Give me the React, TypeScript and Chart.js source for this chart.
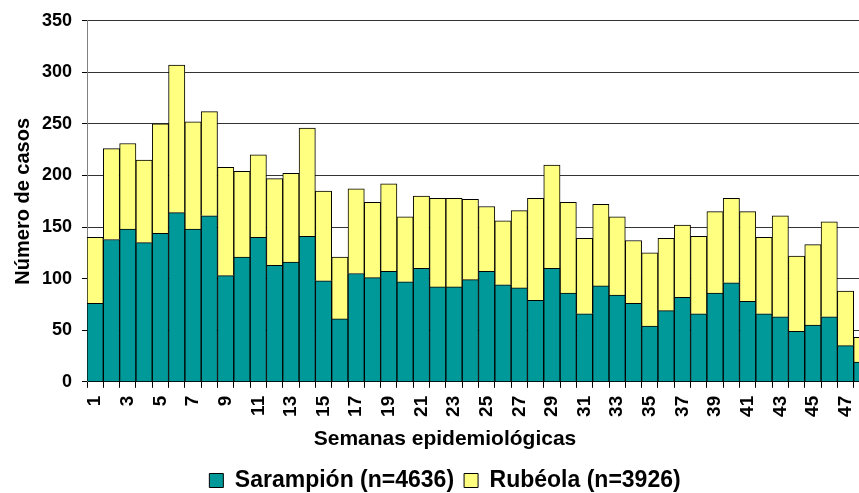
import React, { useEffect, useRef } from "react";
import { Chart, registerables } from "chart.js";

Chart.register(...registerables);

const weeks: string[] = Array.from({ length: 48 }, (_, i) => String(i + 1));

const sarampion: number[] = [
  76, 138, 148, 135, 144, 164, 148, 161, 103, 121,
  140, 113, 116, 141, 98, 61, 105, 101, 107, 97,
  110, 92, 92, 99, 107, 94, 91, 79, 110, 86,
  66, 93, 84, 76, 54, 69, 82, 66, 86, 96,
  78, 66, 63, 49, 55, 63, 35, 19,
];

const totales: number[] = [
  140, 226, 231, 215, 250, 307, 252, 262, 208, 204,
  220, 197, 202, 246, 185, 121, 187, 174, 192, 160,
  180, 178, 178, 177, 170, 156, 166, 178, 210, 174,
  139, 172, 160, 137, 125, 139, 152, 141, 165, 178,
  165, 140, 161, 122, 133, 155, 88, 43,
];

const rubeola: number[] = totales.map((t, i) => t - sarampion[i]);

const FONT = "'Liberation Sans', Arial, sans-serif";

export default function App() {
  const ref = useRef<HTMLCanvasElement | null>(null);

  useEffect(() => {
    if (!ref.current) return;
    const chart = new Chart(ref.current, {
      type: "bar",
      data: {
        labels: weeks,
        datasets: [
          {
            label: "Sarampión (n=4636)",
            data: sarampion,
            backgroundColor: "#009999",
            borderColor: "#000000",
            borderWidth: 1,
            categoryPercentage: 1,
            barPercentage: 1,
          },
          {
            label: "Rubéola (n=3926)",
            data: rubeola,
            backgroundColor: "#FFFF80",
            borderColor: "#000000",
            borderWidth: 1,
            categoryPercentage: 1,
            barPercentage: 1,
          },
        ],
      },
      options: {
        responsive: false,
        animation: false,
        layout: { padding: { top: 20, right: 0, left: 20, bottom: 1 } },
        plugins: {
          tooltip: { enabled: false },
          title: {
            display: true,
            text: "Semanas epidemiológicas",
            position: "bottom",
            weight: 500,
            color: "#000",
            font: { family: FONT, size: 21, weight: "bold" },
            padding: { top: 5, bottom: 7 },
          } as any,
          legend: {
            position: "bottom",
            labels: {
              color: "#000",
              font: { family: FONT, size: 23, weight: "bold" },
              boxWidth: 14,
              boxHeight: 14,
              padding: 10,
            },
          },
        },
        scales: {
          x: {
            stacked: true,
            offset: true,
            afterFit: (s: any) => {
              s.height = 40;
              s.paddingLeft = 0;
              s.paddingRight = 0;
            },
            border: { color: "#000", width: 1 },
            grid: {
              offset: true,
              drawOnChartArea: false,
              drawTicks: true,
              tickLength: 6,
              color: "#000",
            },
            ticks: {
              autoSkip: false,
              maxRotation: 90,
              minRotation: 90,
              padding: 8,
              color: "#000",
              font: { family: FONT, size: 19, weight: "bold" },
              callback: (_v: any, i: number) => (i % 2 === 0 ? weeks[i] : ""),
            },
          },
          y: {
            stacked: true,
            min: 0,
            max: 350,
            afterFit: (s: any) => {
              s.width = 67;
            },
            border: { color: "#808080", width: 1 },
            grid: {
              color: "#333",
              tickLength: 5,
              tickColor: "#000",
            },
            ticks: {
              stepSize: 50,
              padding: 10,
              color: "#000",
              font: { family: FONT, size: 18, weight: "bold" },
            },
            title: {
              display: true,
              text: "Número de casos",
              color: "#000",
              font: { family: FONT, size: 20, weight: "bold" },
              padding: { top: -9, bottom: 0 },
            },
          },
        },
      } as any,
    });
    return () => chart.destroy();
  }, []);

  return (
    <div
      style={{
        position: "fixed",
        left: 0,
        top: 0,
        width: 859,
        height: 493,
        overflow: "hidden",
        background: "#fff",
      }}
    >
      <canvas ref={ref} width={870} height={503} />
    </div>
  );
}
